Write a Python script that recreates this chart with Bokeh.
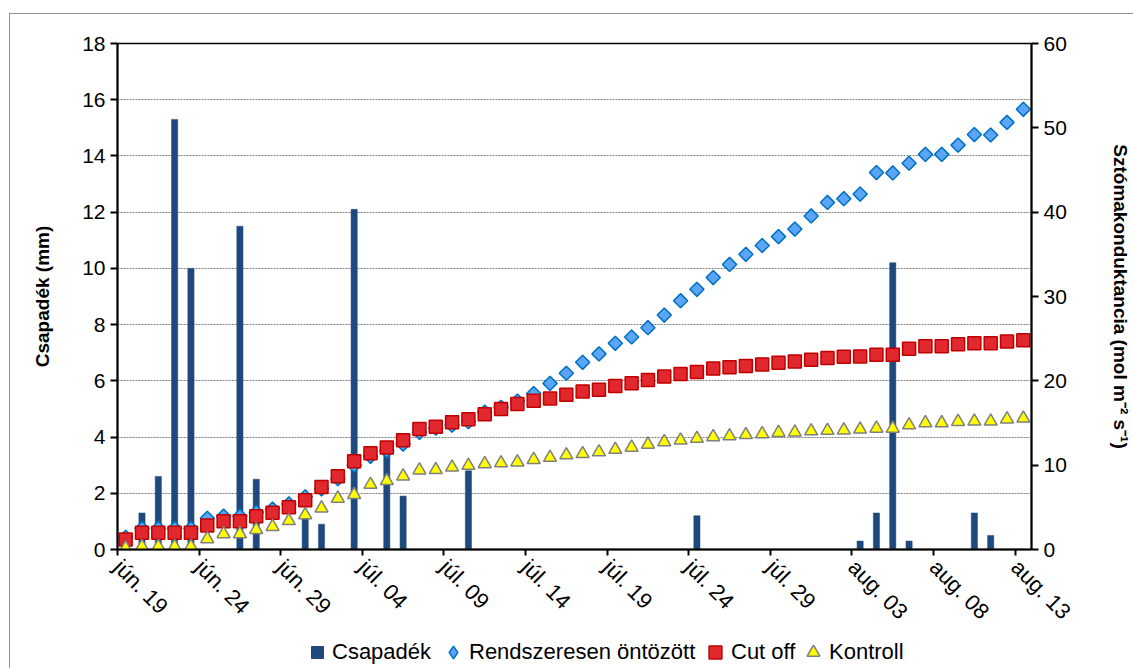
import numpy as np
from bokeh.plotting import figure
from bokeh.layouts import column
from bokeh.models import Range1d, LinearAxis, FixedTicker, Legend, LegendItem
from bokeh.embed import file_html
from bokeh.resources import INLINE

# ---------------- data ----------------
tick_labels = ["jún. 19", "jún. 24", "jún. 29", "júl. 04", "júl. 09", "júl. 14",
               "júl. 19", "júl. 24", "júl. 29", "aug. 03", "aug. 08", "aug. 13"]

# daily precipitation (mm), jún. 19 .. aug. 13
csapadek = [0, 1.3, 2.6, 15.3, 10.0, 0, 0, 11.5, 2.5, 0,
            0, 1.2, 0.9, 0, 12.1, 0, 3.5, 1.9, 0, 0,
            0, 2.8, 0, 0, 0, 0, 0, 0, 0, 0,
            0, 0, 0, 0, 0, 1.2, 0, 0, 0, 0,
            0, 0, 0, 0, 0, 0.3, 1.3, 10.2, 0.3, 0,
            0, 0, 1.3, 0.5, 0, 0]

# stomatal conductance (mol m-2 s-1)
rendszeresen = [1.45, 2.5, 2.5, 2.5, 2.5, 3.7, 3.95, 3.95, 4.4, 4.8,
                5.4, 6.25, 7.2, 8.4, 10.0, 11.05, 11.7, 12.5, 13.9, 14.4,
                14.75, 15.15, 16.3, 16.85, 17.6, 18.5, 19.7, 20.9, 22.2, 23.2,
                24.45, 25.2, 26.3, 27.8, 29.5, 30.85, 32.25, 33.8, 35.0, 36.05,
                37.1, 38.0, 39.55, 41.15, 41.6, 42.15, 44.7, 44.65, 45.8, 46.85,
                46.85, 47.95, 49.2, 49.15, 50.65, 52.2]

cut_off = [1.2, 2.0, 2.0, 2.0, 2.0, 2.85, 3.35, 3.35, 3.95, 4.35,
           5.0, 5.85, 7.4, 8.7, 10.45, 11.4, 12.1, 12.95, 14.3, 14.55,
           15.1, 15.45, 16.05, 16.65, 17.25, 17.65, 17.9, 18.35, 18.75, 18.95,
           19.4, 19.7, 20.1, 20.5, 20.8, 21.05, 21.45, 21.6, 21.75, 21.95,
           22.15, 22.3, 22.5, 22.7, 22.85, 22.9, 23.1, 23.1, 23.8, 24.1,
           24.1, 24.35, 24.45, 24.45, 24.65, 24.8]

kontroll = [0.15, 0.35, 0.35, 0.35, 0.35, 1.25, 1.85, 1.85, 2.35, 2.7,
            3.4, 4.1, 4.9, 6.05, 6.5, 7.7, 8.15, 8.7, 9.4, 9.45,
            9.75, 9.95, 10.15, 10.25, 10.35, 10.65, 10.9, 11.2, 11.35, 11.55,
            11.85, 12.1, 12.45, 12.75, 12.95, 13.15, 13.35, 13.45, 13.6, 13.7,
            13.85, 13.9, 14.05, 14.1, 14.15, 14.25, 14.35, 14.35, 14.75, 15.0,
            15.0, 15.15, 15.2, 15.2, 15.45, 15.55]

# ---------------- styles ----------------
FONT = "Liberation Sans"
NAVY = "#1F497D"
BLUE_FILL, BLUE_LINE = "#5AA5F5", "#0070C0"
RED_FILL, RED_LINE = "#E0282E", "#C00000"
YEL_FILL, YEL_LINE = "#FFFF00", "#7f7f7f"

n = len(csapadek)
xs = np.arange(n) + 0.5
tick_pos = list(range(0, n, 5))

# ---------------- main figure ----------------
p = figure(width=1133, height=636, output_backend="svg", toolbar_location=None,
           x_range=Range1d(0, n), y_range=Range1d(0, 18),
           min_border_left=117, min_border_right=97, min_border_top=43, min_border_bottom=85)
p.extra_y_ranges = {"right": Range1d(0, 60)}
p.background_fill_color = "white"
p.border_fill_color = "white"
p.outline_line_color = "black"
p.outline_line_width = 1.5

xa = p.xaxis[0]
xa.ticker = FixedTicker(ticks=tick_pos)
xa.major_label_overrides = {t: lab for t, lab in zip(tick_pos, tick_labels)}
xa.major_label_orientation = -np.pi / 4

ya = p.yaxis[0]
ya.ticker = FixedTicker(ticks=list(range(0, 19, 2)))
ya.axis_label = "Csapadék (mm)"
ya.axis_label_standoff = 26

ra = LinearAxis(y_range_name="right", ticker=FixedTicker(ticks=list(range(0, 61, 10))),
                axis_label="Sztómakonduktancia (mol m\u207b\u00b2 s\u207b\u00b9)")
ra.axis_label_standoff = 40
p.add_layout(ra, "right")

for ax in (xa, ya, ra):
    ax.axis_line_color = "black"
    ax.axis_line_width = 2
    ax.major_tick_line_color = "black"
    ax.major_tick_line_width = 2
    ax.major_tick_out = 7
    ax.major_tick_in = 0
    ax.minor_tick_line_color = None
    ax.major_label_text_font = FONT
    ax.major_label_text_font_size = "21px"
    ax.major_label_text_color = "black"
    ax.axis_label_text_font = FONT
    ax.axis_label_text_font_size = "19px"
    ax.axis_label_text_font_style = "bold"
    ax.axis_label_text_color = "black"
xa.major_tick_out = 6
xa.major_label_standoff = 8
xa.major_label_text_font_size = "22px"

p.xgrid.visible = False
p.ygrid.ticker = FixedTicker(ticks=list(range(2, 18, 2)))
p.ygrid.grid_line_color = "#7f7f7f"
p.ygrid.grid_line_dash = "2 1"
p.ygrid.grid_line_width = 1

p.vbar(x=xs, top=csapadek, width=0.38, fill_color=NAVY, line_color=NAVY, line_width=0.5)
p.scatter(x=xs, y=rendszeresen, y_range_name="right", marker="square", angle=np.pi / 4, size=10,
          fill_color=BLUE_FILL, line_color=BLUE_LINE, line_width=1.5)
p.scatter(x=xs, y=cut_off, y_range_name="right", marker="square", size=13,
          fill_color=RED_FILL, line_color=RED_LINE, line_width=1.5)
p.scatter(x=xs, y=kontroll, y_range_name="right", marker="triangle", size=13,
          fill_color=YEL_FILL, line_color=YEL_LINE, line_width=1.5)

# ---------------- legend strip (separate figure below the chart) ----------------
LH = 32
lf = figure(width=1133, height=LH, output_backend="svg", toolbar_location=None,
            x_axis_type=None, y_axis_type=None, min_border=0,
            x_range=Range1d(-2, -1), y_range=Range1d(0, 60))
lf.outline_line_color = None
lf.grid.visible = False
lf.background_fill_color = "white"
lf.border_fill_color = "white"

# key renderers (their points fall outside this strip's range, only the legend swatches show)
k_bar = lf.scatter(x=xs, y=csapadek, marker="square", size=0,
                   fill_color=NAVY, line_color=NAVY, line_width=1)
k_blue = lf.scatter(x=xs, y=rendszeresen, marker="diamond", size=0,
                    fill_color=BLUE_FILL, line_color=BLUE_LINE, line_width=1.5)
k_red = lf.scatter(x=xs, y=cut_off, marker="square", size=0,
                   fill_color=RED_FILL, line_color=RED_LINE, line_width=1.5)
k_yel = lf.scatter(x=xs, y=kontroll, marker="triangle", size=0,
                   fill_color=YEL_FILL, line_color=YEL_LINE, line_width=1.5)

# (label, renderer, swatch box width, swatch offset from frame left, label standoff)
entries = [("Csapadék", k_bar, 30, 185, -4),
           ("Rendszeresen öntözött", k_blue, 32, 320, -6),
           ("Cut off", k_red, 32, 582, -5),
           ("Kontroll", k_yel, 32, 680, -6)]
for label, r, gw, vx, stand in entries:
    lg = Legend(items=[LegendItem(label=label, renderers=[r])],
                location=(vx, 0), orientation="horizontal",
                glyph_width=gw, glyph_height=LH, label_height=LH,
                label_standoff=stand, spacing=0, padding=0, margin=0,
                border_line_color=None, background_fill_alpha=0,
                label_text_font=FONT, label_text_font_size="22px", label_text_color="black")
    lf.add_layout(lg, "center")

# thin grey chart-area border (left and top edges; right/bottom lie outside the window)
border_css = """
:host { position: relative; }
:host::after { content: ""; position: absolute; left: 9px; top: 13px; right: 0; bottom: 0;
               border-left: 1px solid #8f8f8f; border-top: 1px solid #8f8f8f;
               pointer-events: none; }
"""
layout = column(p, lf, spacing=0, stylesheets=[border_css])
open("out.html", "w").write(file_html(layout, INLINE))
